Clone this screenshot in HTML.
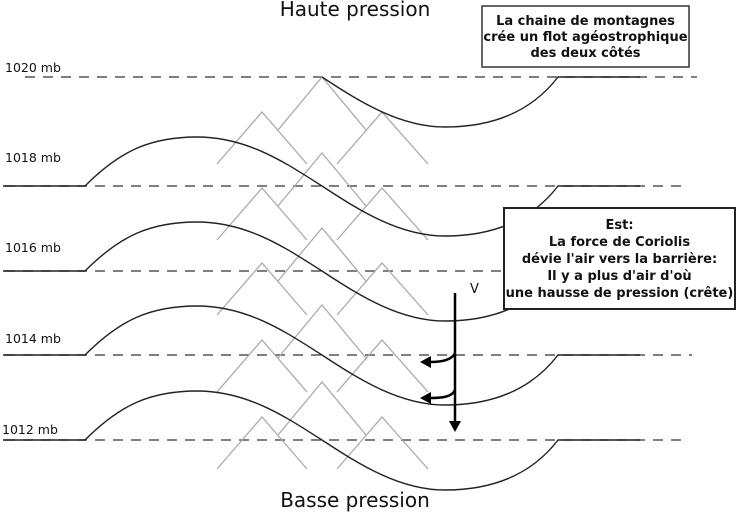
<!DOCTYPE html>
<html><head><meta charset="utf-8"><style>html,body{margin:0;padding:0;background:#fff}svg{display:block}</style></head>
<body>
<svg width="737" height="512" viewBox="0 0 737 512" xmlns="http://www.w3.org/2000/svg" font-family="DejaVu Sans, Liberation Sans, sans-serif">
<defs>
<g id="mt" fill="none" stroke="#aaa" stroke-width="1.3">
<polyline points="217,52 262,0 307,52"/>
<polyline points="337,52 382,0 428,52"/>
<polyline points="278,18 322,-35 366,18"/>
</g>
<path id="iso" fill="none" stroke="#222" stroke-width="1.4" d="M3 0 H85 C120 -35,150 -49,197 -49 C250 -49,290 -20,322 0 C360 25,400 50,445 50 C500 50,535 30,558 0 H640"/>
</defs>
<g stroke="#555" stroke-width="1.5" stroke-dasharray="10,8">
<line x1="25" y1="77" x2="697" y2="77"/>
<line x1="5" y1="186" x2="687" y2="186"/>
<line x1="5" y1="271" x2="687" y2="271"/>
<line x1="5" y1="355" x2="692" y2="355"/>
<line x1="5" y1="440" x2="687" y2="440"/>
</g>
<use href="#mt" transform="translate(0,112)"/>
<use href="#mt" transform="translate(0,188)"/>
<use href="#mt" transform="translate(0,263)"/>
<use href="#mt" transform="translate(0,340)"/>
<use href="#mt" transform="translate(0,417)"/>
<path fill="none" stroke="#222" stroke-width="1.4" d="M322 77 C360 102,400 127,445 127 C500 127,535 107,558 77 H640"/>
<use href="#iso" transform="translate(0,186)"/>
<use href="#iso" transform="translate(0,271)"/>
<use href="#iso" transform="translate(0,355)"/>
<use href="#iso" transform="translate(0,440)"/>
<g font-size="12.5" fill="#111">
<text x="5" y="72">1020 mb</text>
<text x="5" y="162">1018 mb</text>
<text x="5" y="252">1016 mb</text>
<text x="5" y="343">1014 mb</text>
<text x="2" y="434">1012 mb</text>
</g>
<text x="355" y="16" font-size="20" text-anchor="middle" fill="#111">Haute pression</text>
<text x="355" y="507" font-size="20" text-anchor="middle" fill="#111">Basse pression</text>
<text x="470" y="293" font-size="13" fill="#111">V</text>
<g stroke="#000" stroke-width="2.5" fill="none">
<line x1="455" y1="293" x2="455" y2="422"/>
<path d="M455 353 C452 360,442 362,430 362"/>
<path d="M455 390 C452 397,442 398,430 398"/>
</g>
<g fill="#000">
<polygon points="449,421 461,421 455,432"/>
<polygon points="431,356 431,368 420,362"/>
<polygon points="431,392 431,404 420,398"/>
</g>
<rect x="482" y="6" width="207" height="61" fill="#fff" stroke="#333" stroke-width="1.5"/>
<g font-size="13" font-weight="bold" text-anchor="middle" fill="#111">
<text x="585.5" y="25">La chaine de montagnes</text>
<text x="585.5" y="41">crée un flot agéostrophique</text>
<text x="585.5" y="57">des deux côtés</text>
</g>
<rect x="504" y="208" width="231" height="101" fill="#fff" stroke="#222" stroke-width="2"/>
<g font-size="13" font-weight="bold" text-anchor="middle" fill="#111">
<text x="619.5" y="229">Est:</text>
<text x="619.5" y="246">La force de Coriolis</text>
<text x="619.5" y="263">dévie l'air vers la barrière:</text>
<text x="619.5" y="280">Il y a plus d'air d'où</text>
<text x="619.5" y="297">une hausse de pression (crête)</text>
</g>
</svg>
</body></html>
